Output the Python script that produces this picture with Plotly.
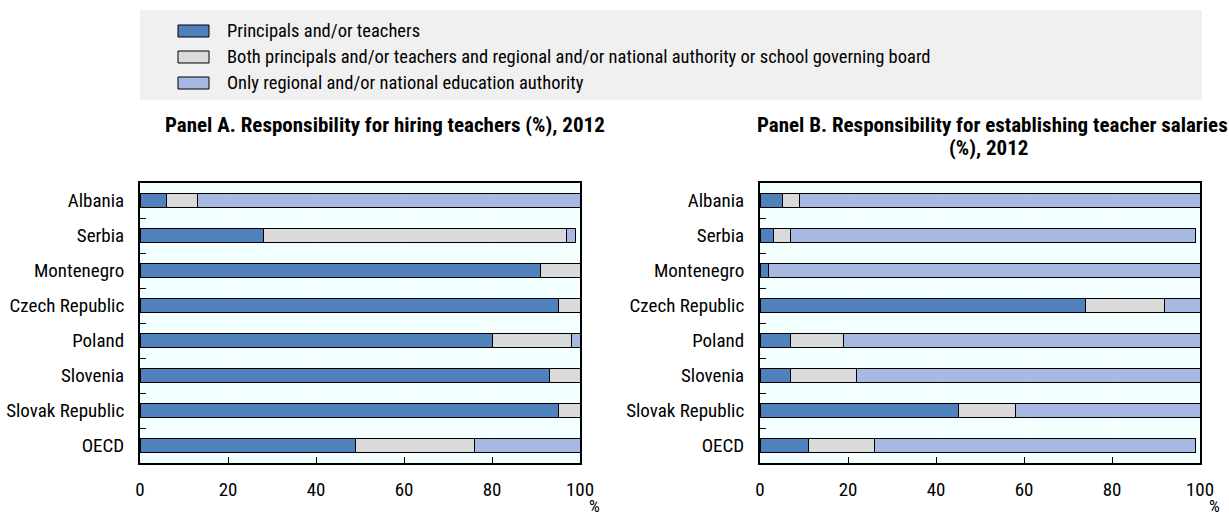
import plotly.graph_objects as go

# Countries, top to bottom
countries = ["Albania", "Serbia", "Montenegro", "Czech Republic", "Poland",
             "Slovenia", "Slovak Republic", "OECD"]

series_names = [
    "Principals and/or teachers",
    "Both principals and/or teachers and regional and/or national authority or school governing board",
    "Only regional and/or national education authority",
]
series_colors = ["#4F81BD", "#DADADA", "#A7B9E3"]

# Panel A: responsibility for hiring teachers (%)
hiring_principals = [6, 28, 91, 95, 80, 93, 95, 49]
hiring_both = [7, 69, 9, 5, 18, 7, 5, 27]
hiring_authority = [87, 2, 0, 0, 2, 0, 0, 24]

# Panel B: responsibility for establishing teacher salaries (%)
salary_principals = [5, 3, 2, 74, 7, 7, 45, 11]
salary_both = [4, 4, 0, 18, 12, 15, 13, 15]
salary_authority = [91, 92, 98, 8, 81, 78, 42, 73]

x_ticks = [0, 20, 40, 60, 80, 100]

title_a = "Panel A. Responsibility for hiring teachers (%), 2012"
title_b_lines = ["Panel B. Responsibility for establishing teacher salaries", "(%), 2012"]

FONT = "Roboto Condensed, Liberation Sans Narrow, Arial Narrow, Liberation Sans, sans-serif"
W, H = 1229, 513


def px_x(p):
    return p / W


def px_y(p):
    return 1 - p / H


fig = go.Figure()

panels = [
    ("x", "y", [hiring_principals, hiring_both, hiring_authority]),
    ("x2", "y2", [salary_principals, salary_both, salary_authority]),
]
for xa, ya, values in panels:
    for name, color, vals in zip(series_names, series_colors, values):
        fig.add_trace(go.Bar(
            y=countries, x=vals, orientation="h", name=name,
            xaxis=xa, yaxis=ya, width=0.4, showlegend=False,
            marker=dict(color=color, line=dict(color="#000000", width=1)),
            hoverinfo="x+y+name",
        ))

plot_top, plot_bottom = 183, 463
dom_y = [px_y(plot_bottom), px_y(plot_top)]
dom_a = [px_x(140), px_x(580)]
dom_b = [px_x(760), px_x(1200)]

tick_font = dict(family=FONT, size=19, color="#000000")

xaxis_common = dict(
    range=[0, 100], tickvals=x_ticks, ticks="inside", ticklen=6, tickcolor="#000000",
    showline=True, linecolor="#000000", linewidth=2, mirror=True,
    showgrid=True, gridcolor="#FFFFFF", gridwidth=1, zeroline=False,
    tickfont=tick_font, ticklabelstandoff=8, automargin=False,
    fixedrange=True,
)
yaxis_common = dict(
    categoryorder="array", categoryarray=countries[::-1],
    ticks="inside", tickson="boundaries", ticklen=6, tickcolor="#000000",
    showline=True, linecolor="#000000", linewidth=2, mirror=True,
    showgrid=False, zeroline=False,
    tickfont=tick_font, ticklabelstandoff=10, automargin=False,
    fixedrange=True,
)

fig.update_layout(
    template="none",
    width=W, height=H,
    margin=dict(l=0, r=0, t=0, b=0, autoexpand=False),
    paper_bgcolor="#FFFFFF",
    plot_bgcolor="#F4FFFF",
    barmode="stack",
    font=dict(family=FONT, size=19, color="#000000"),
    xaxis=dict(domain=dom_a, anchor="y", **xaxis_common),
    yaxis=dict(domain=dom_y, anchor="x", **yaxis_common),
    xaxis2=dict(domain=dom_b, anchor="y2", **xaxis_common),
    yaxis2=dict(domain=dom_y, anchor="x2", **yaxis_common),
)

shapes = []
annotations = []

# Legend panel
shapes.append(dict(type="rect", xref="paper", yref="paper",
                   x0=px_x(140), x1=px_x(1202), y0=px_y(100), y1=px_y(10),
                   fillcolor="#F0F0F0", line=dict(width=0), layer="below"))
row_centers = [31, 57, 83]
for name, color, yc in zip(series_names, series_colors, row_centers):
    shapes.append(dict(type="rect", xref="paper", yref="paper",
                       x0=px_x(178), x1=px_x(209), y0=px_y(yc + 6), y1=px_y(yc - 6),
                       fillcolor=color, line=dict(color="#000000", width=1)))
    annotations.append(dict(xref="paper", yref="paper", x=px_x(225), y=px_y(yc),
                            text=name, showarrow=False, xanchor="left", yanchor="middle",
                            font=dict(family=FONT, size=18.5, color="#000000")))

# Panel titles
title_font = dict(family=FONT, size=21, color="#000000", weight="bold")
annotations.append(dict(xref="paper", yref="paper", x=px_x(385), y=px_y(125),
                        text=title_a, showarrow=False, xanchor="center",
                        yanchor="middle", font=title_font))
for line, xc, yc in zip(title_b_lines, [992, 988], [125, 148]):
    annotations.append(dict(xref="paper", yref="paper", x=px_x(xc), y=px_y(yc),
                            text=line, showarrow=False, xanchor="center",
                            yanchor="middle", font=title_font))

# Unit label under the right end of each x axis
for xa in ["x", "x2"]:
    annotations.append(dict(xref=f"{xa} domain", yref="paper", x=1, y=px_y(506),
                            xshift=14, text="%", showarrow=False, xanchor="center",
                            yanchor="middle", font=dict(family=FONT, size=17, color="#000000")))

fig.update_layout(shapes=shapes, annotations=annotations)

fig.write_html("out.html")
